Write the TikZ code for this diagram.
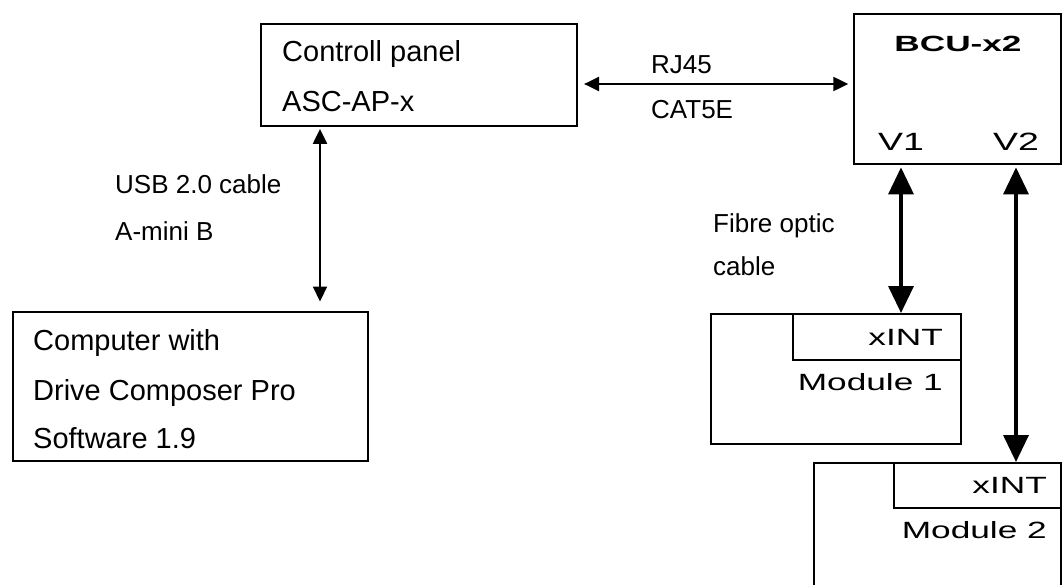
\documentclass[tikz,border=0pt]{standalone}
\usepackage{fontspec}
\setmainfont{Liberation Sans}
\usetikzlibrary{arrows.meta}
\newcommand{\wtext}[1]{\scalebox{1.5}[1]{#1}}
\begin{document}
\begin{tikzpicture}[x=1pt,y=-1pt,
  box/.style={draw,line width=2.4pt,rectangle,anchor=north west,inner sep=0pt},
  mbox/.style={draw,line width=2pt,rectangle,anchor=north west,inner sep=0pt},
  lbl/.style={inner sep=0pt,anchor=base west,font=\fontsize{29}{31}\selectfont},
  clbl/.style={inner sep=0pt,anchor=base west,font=\fontsize{26}{28}\selectfont},
  wlbl/.style={inner sep=0pt,font=\fontsize{23.5}{26}\selectfont},
  biarrow/.style={{Triangle[length=15pt,width=14pt]}-{Triangle[length=15pt,width=14pt]},line width=2.2pt},
  fibre/.style={{Triangle[length=27pt,width=25pt]}-{Triangle[length=27pt,width=25pt]},line width=3.5pt}]
\useasboundingbox (0,0) rectangle (1062,584);
\clip (0,0) rectangle (1062,584);
\fill[white] (0,0) rectangle (1062,584);

% boxes
\node[box,minimum width=316pt,minimum height=102pt] (cp) at (260,23) {};
\node[box,minimum width=355pt,minimum height=149pt] (pc) at (12,311) {};
\node[box,minimum width=207pt,minimum height=150pt] (bcu) at (853,13) {};
\node[mbox,minimum width=250pt,minimum height=130pt] (m1) at (710,313) {};
\node[mbox,minimum width=168pt,minimum height=46pt,anchor=north east] (m1i) at (m1.north east) {};
\node[mbox,minimum width=247pt,minimum height=200pt] (m2) at (813,462) {};
\node[mbox,minimum width=167pt,minimum height=45pt,anchor=north east] (m2i) at (m2.north east) {};

% texts
\node[lbl] (cpt1) at (282,61) {Controll panel};
\node[lbl] (cpt2) at (282,111) {ASC-AP-x};
\node[lbl] (pct1) at (33,350) {Computer with};
\node[lbl] (pct2) at (33,400) {Drive Composer Pro};
\node[lbl] (pct3) at (33,448) {Software 1.9};
\node[clbl] (usb1) at (115,193) {USB 2.0 cable};
\node[clbl] (usb2) at (115,240) {A-mini B};
\node[clbl] (rj1) at (651,73) {RJ45};
\node[clbl] (rj2) at (651,118) {CAT5E};
\node[clbl] (fo1) at (713,232) {Fibre optic};
\node[clbl] (fo2) at (713,275) {cable};
\node[inner sep=0pt,anchor=base,font=\fontsize{22}{24}\selectfont\bfseries] (bcut) at (958,51) {\scalebox{1.6}[1]{BCU-x2}};
\node[wlbl,anchor=base,font=\fontsize{25}{27}\selectfont] (v1) at (901,150) {\wtext{V1}};
\node[wlbl,anchor=base,font=\fontsize{25}{27}\selectfont] (v2) at (1016,150) {\wtext{V2}};
\node[wlbl,anchor=base east] (x1) at (943,345) {\wtext{xINT}};
\node[wlbl,anchor=base east] (mod1) at (943,390) {\wtext{Module 1}};
\node[wlbl,anchor=base east] (x2) at (1047,493) {\wtext{xINT}};
\node[wlbl,anchor=base east] (mod2) at (1047,538) {\wtext{Module 2}};

% connectors
\coordinate (usbx) at (320,0);
\coordinate (rjy) at (0,84);
\draw[biarrow,shorten <=1.5pt,shorten >=9.5pt] (cp.south -| usbx) -- (pc.north -| usbx);
\draw[biarrow,shorten <=5.7pt,shorten >=4.7pt] (cp.east |- rjy) -- (bcu.west |- rjy);
\draw[fibre,shorten <=2pt] (bcu.south -| v1) -- (m1.north -| v1);
\draw[fibre,shorten <=2pt] (bcu.south -| v2) -- (m2.north -| v2);
\end{tikzpicture}
\end{document}
